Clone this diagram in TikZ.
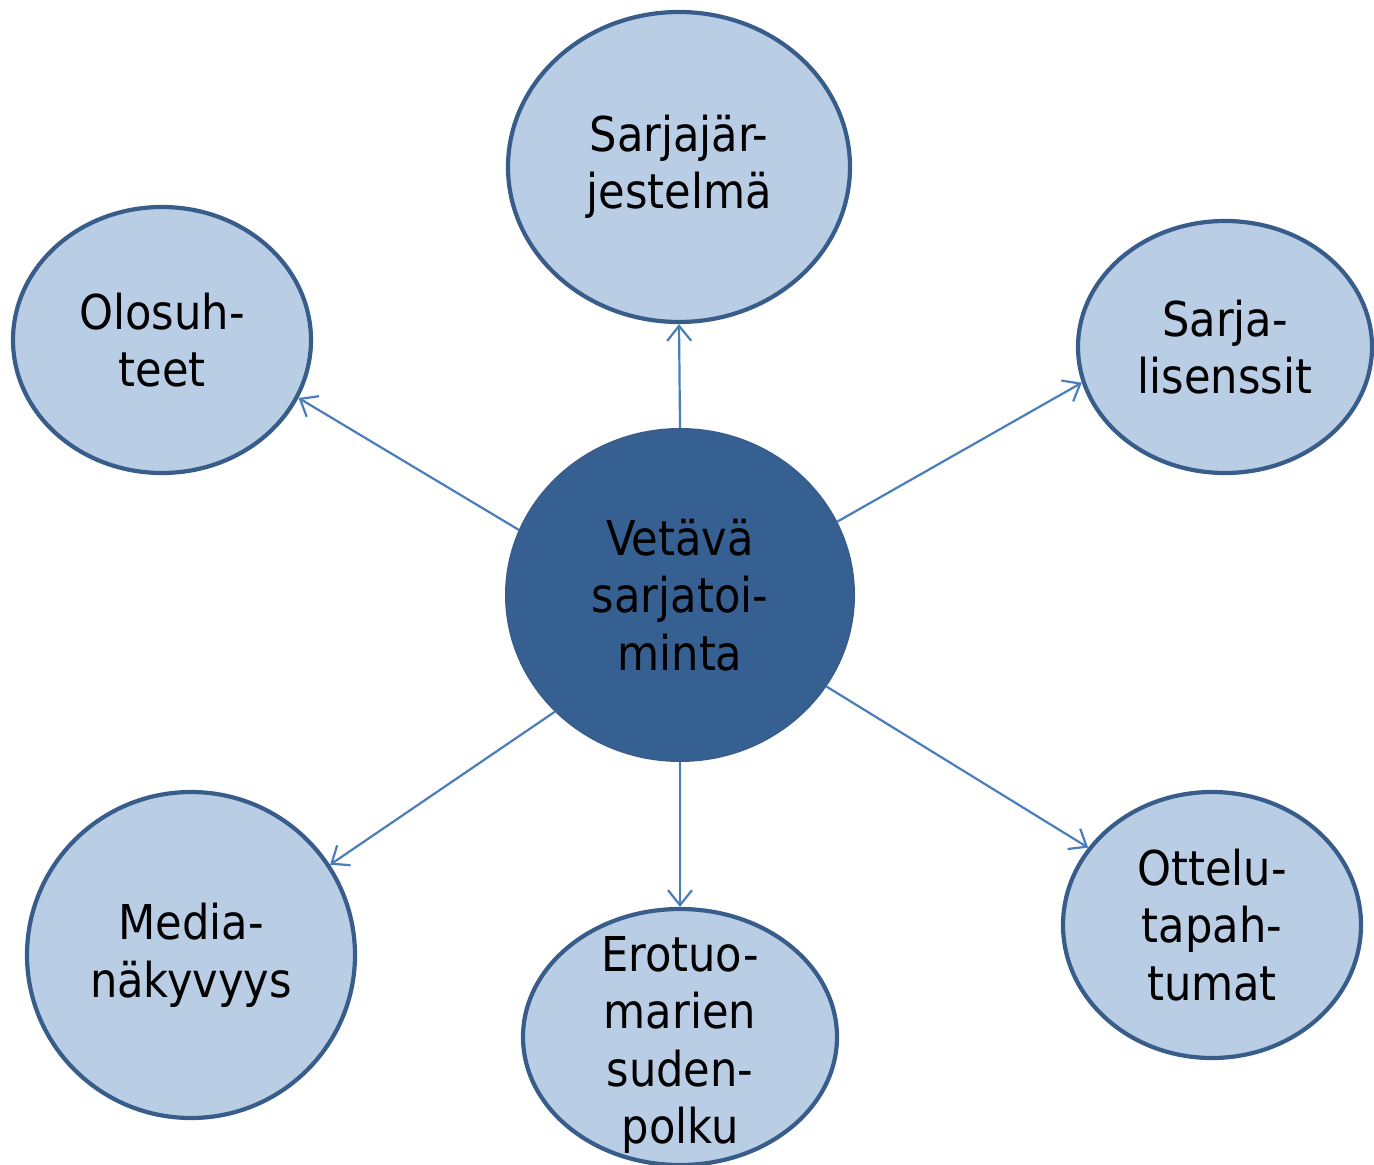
\documentclass[tikz,border=0pt]{standalone}
\usepackage{fontspec}
\setmainfont{DejaVu Sans Condensed}
\usetikzlibrary{shapes.geometric,arrows.meta}
\definecolor{lightfill}{HTML}{B9CDE5}
\definecolor{darkedge}{HTML}{385D8A}
\definecolor{centerfill}{HTML}{376092}
\definecolor{arrowcol}{HTML}{4A7EBB}
\tikzset{
  leaf/.style={ellipse, draw=darkedge, line width=2.1pt, fill=lightfill, inner sep=0pt, align=center,
    font=\fontsize{24}{28.75}\selectfont},
  hub/.style={ellipse, draw=darkedge, line width=1pt, fill=centerfill, inner sep=0pt, align=center,
    font=\fontsize{24}{28.75}\selectfont},
  label/.style={align=center, inner sep=0pt, font=\fontsize{24}{28.75}\selectfont},
  conn/.style={draw=arrowcol, line width=1.1pt, -{Straight Barb[length=7.5pt,width=12pt,line width=1.1pt]}}
}
\begin{document}
\begin{tikzpicture}[x=0.5pt,y=-0.5pt]
\useasboundingbox (0,0) rectangle (1374,1165);
\node[hub, minimum width=174pt, minimum height=166pt] (c) at (680,595) {Vetävä\\sarjatoi-\\minta};
\node[leaf, minimum width=171pt, minimum height=155pt] (t) at (679,167) {Sarjajär-\\jestelmä};
\node[leaf, minimum width=149pt, minimum height=133pt] (o) at (162,340) {Olosuh-\\teet};
\node[leaf, minimum width=147pt, minimum height=126pt] (s) at (1225,347) {Sarja-\\lisenssit};
\node[leaf, minimum width=164pt, minimum height=163pt] (m) at (191,955) {Media-\\näkyvyys};
\node[leaf, minimum width=157pt, minimum height=128pt] (e) at (680,1037) {};
\node[label] (et) at (680,1045) {Erotuo-\\marien\\suden-\\polku};
\node[leaf, minimum width=149pt, minimum height=133pt] (p) at (1212,925) {Ottelu-\\tapah-\\tumat};
\draw[conn] (c.north) -- (t.south);
\draw[conn] (c.158.8) -- (o.-23.8);
\draw[conn] (c.25.5) -- (s.194.3);
\draw[conn] (c.223.4) -- (m.33);
\draw[conn] (c.south) -- (e.north);
\draw[conn] (c.-32.3) -- (p.148);
\end{tikzpicture}
\end{document}
